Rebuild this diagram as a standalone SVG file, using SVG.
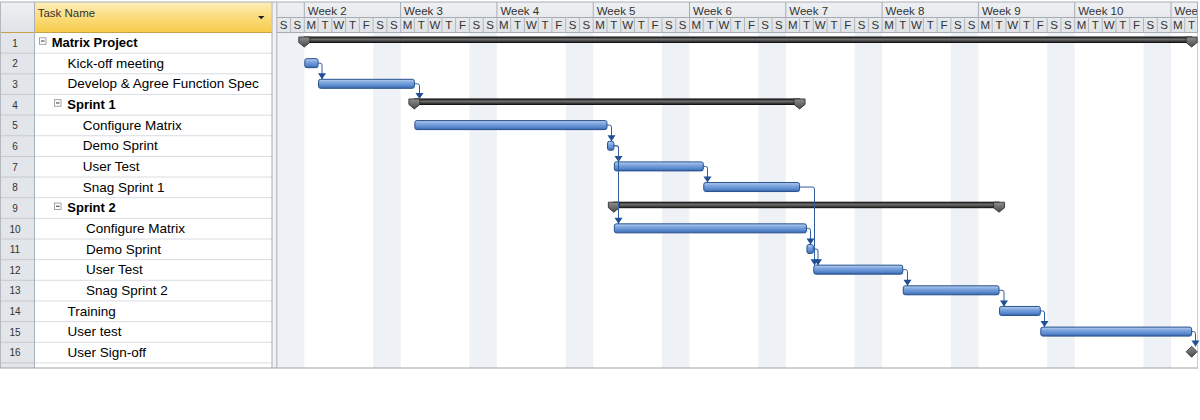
<svg xmlns="http://www.w3.org/2000/svg" width="1200" height="420" viewBox="0 0 1200 420">
<defs>
<style>
.tn{font-family:"Liberation Sans",Arial,sans-serif;font-size:13.5px;fill:#000}
.tb{font-family:"Liberation Sans",Arial,sans-serif;font-size:13px;font-weight:bold;fill:#000}
.rn{font-family:"Liberation Sans",Arial,sans-serif;font-size:10px;fill:#333;text-anchor:middle}
.wk{font-family:"Liberation Sans",Arial,sans-serif;font-size:11.5px;fill:#333}
.dy{font-family:"Liberation Sans",Arial,sans-serif;font-size:11.5px;fill:#333;text-anchor:middle}
.hd{font-family:"Liberation Sans",Arial,sans-serif;font-size:11.5px;fill:#333}
.bar{fill:url(#gBar);stroke:#264f8c;stroke-width:1}
.sum{fill:url(#gSum);stroke:#111;stroke-width:1}
.cap{fill:url(#gCap);stroke:#222;stroke-width:0.8}
.exp{fill:#fff;stroke:#8d8d8d;stroke-width:0.8}
.expm{stroke:#333;stroke-width:1}
.conn{fill:none;stroke:#2f5e9e;stroke-width:1;marker-end:url(#arr)}
.rowline{stroke:#d9dce1;stroke-width:1}
.numline{stroke:#c5cad1;stroke-width:1}
.wkend{fill:#eef1f6}
</style>
<linearGradient id="gBar" x1="0" y1="0" x2="0" y2="1">
<stop offset="0" stop-color="#b9cff0"/>
<stop offset="0.35" stop-color="#7ea6de"/>
<stop offset="0.7" stop-color="#5b8bd0"/>
<stop offset="1" stop-color="#3a67aa"/>
</linearGradient>
<linearGradient id="gSum" x1="0" y1="0" x2="0" y2="1">
<stop offset="0" stop-color="#2a2a2a"/>
<stop offset="0.45" stop-color="#6d6d6d"/>
<stop offset="1" stop-color="#1c1c1c"/>
</linearGradient>
<linearGradient id="gCap" x1="0" y1="0" x2="0" y2="1">
<stop offset="0" stop-color="#8e8e8e"/>
<stop offset="1" stop-color="#4a4a4a"/>
</linearGradient>
<linearGradient id="gHead" x1="0" y1="0" x2="0" y2="1">
<stop offset="0" stop-color="#fdefbd"/>
<stop offset="0.5" stop-color="#fbdc7c"/>
<stop offset="1" stop-color="#f7cc4a"/>
</linearGradient>
<linearGradient id="gGrey" x1="0" y1="0" x2="0" y2="1">
<stop offset="0" stop-color="#eef0f2"/>
<stop offset="1" stop-color="#e0e3e7"/>
</linearGradient>
<marker id="arr" markerUnits="userSpaceOnUse" markerWidth="10" markerHeight="10" viewBox="0 -5 6 10" refX="6" refY="0" orient="auto">
<path d="M0,-4 L6,0 L0,4 Z" fill="#1f4f96"/>
</marker>
<clipPath id="gclip"><rect x="276.8" y="0" width="921.2" height="368"/></clipPath>
</defs>

<rect x="0" y="0" width="1200" height="420" fill="#fff"/>

<!-- table frame -->
<g id="table">
<rect x="0" y="2" width="34" height="366" fill="#e2e5e9"/>
<rect x="0" y="2" width="34" height="30.5" fill="url(#gGrey)"/>
<rect x="34.5" y="2" width="237" height="30.5" fill="url(#gHead)"/>
<text class="hd" x="37.7" y="17">Task Name</text>
<path d="M258,16 L264.5,16 L261.25,19.3 Z" fill="#222"/>
<line x1="0" y1="32.5" x2="272" y2="32.5" stroke="#c7a24a" stroke-width="1"/>
<g class="rowline">
<line x1="34" y1="53.15" x2="272" y2="53.15"/>
<line x1="34" y1="73.8" x2="272" y2="73.8"/>
<line x1="34" y1="94.45" x2="272" y2="94.45"/>
<line x1="34" y1="115.1" x2="272" y2="115.1"/>
<line x1="34" y1="135.75" x2="272" y2="135.75"/>
<line x1="34" y1="156.4" x2="272" y2="156.4"/>
<line x1="34" y1="177.05" x2="272" y2="177.05"/>
<line x1="34" y1="197.7" x2="272" y2="197.7"/>
<line x1="34" y1="218.35" x2="272" y2="218.35"/>
<line x1="34" y1="239" x2="272" y2="239"/>
<line x1="34" y1="259.65" x2="272" y2="259.65"/>
<line x1="34" y1="280.3" x2="272" y2="280.3"/>
<line x1="34" y1="300.95" x2="272" y2="300.95"/>
<line x1="34" y1="321.6" x2="272" y2="321.6"/>
<line x1="34" y1="342.25" x2="272" y2="342.25"/>
<line x1="34" y1="362.9" x2="272" y2="362.9"/>
</g>
<g class="numline">
<line x1="0" y1="53.15" x2="34" y2="53.15"/>
<line x1="0" y1="73.8" x2="34" y2="73.8"/>
<line x1="0" y1="94.45" x2="34" y2="94.45"/>
<line x1="0" y1="115.1" x2="34" y2="115.1"/>
<line x1="0" y1="135.75" x2="34" y2="135.75"/>
<line x1="0" y1="156.4" x2="34" y2="156.4"/>
<line x1="0" y1="177.05" x2="34" y2="177.05"/>
<line x1="0" y1="197.7" x2="34" y2="197.7"/>
<line x1="0" y1="218.35" x2="34" y2="218.35"/>
<line x1="0" y1="239" x2="34" y2="239"/>
<line x1="0" y1="259.65" x2="34" y2="259.65"/>
<line x1="0" y1="280.3" x2="34" y2="280.3"/>
<line x1="0" y1="300.95" x2="34" y2="300.95"/>
<line x1="0" y1="321.6" x2="34" y2="321.6"/>
<line x1="0" y1="342.25" x2="34" y2="342.25"/>
<line x1="0" y1="362.9" x2="34" y2="362.9"/>
</g>
<line x1="34.5" y1="2" x2="34.5" y2="368" stroke="#aab0b8" stroke-width="1"/>
<rect x="272" y="2" width="4.8" height="366" fill="#f0f1f3"/>
<line x1="272" y1="2" x2="272" y2="368" stroke="#a9aeb5" stroke-width="1"/>
<line x1="0.5" y1="2" x2="0.5" y2="368" stroke="#b5b9bf" stroke-width="1"/>
</g>

<!-- gantt frame -->
<g id="timescale" clip-path="url(#gclip)">
<rect x="276.8" y="32.5" width="921.2" height="335.5" fill="#fff"/>
<g class="wkend">
<rect x="276.8" y="32.5" width="27.51" height="335.5"/>
<rect x="373.1" y="32.5" width="27.51" height="335.5"/>
<rect x="469.4" y="32.5" width="27.51" height="335.5"/>
<rect x="565.7" y="32.5" width="27.51" height="335.5"/>
<rect x="662.0" y="32.5" width="27.51" height="335.5"/>
<rect x="758.3" y="32.5" width="27.51" height="335.5"/>
<rect x="854.59" y="32.5" width="27.51" height="335.5"/>
<rect x="950.89" y="32.5" width="27.51" height="335.5"/>
<rect x="1047.19" y="32.5" width="27.51" height="335.5"/>
<rect x="1143.49" y="32.5" width="27.51" height="335.5"/>
</g>
<rect x="276.8" y="2" width="921.2" height="30.5" fill="url(#gGrey)"/>
<path d="M276.8,17.5 H1198 M276.8,32.5 H1198" stroke="#a7acb4" stroke-width="1" fill="none"/>
<path d="M304.31,2 V17.5 M400.61,2 V17.5 M496.91,2 V17.5 M593.21,2 V17.5 M689.51,2 V17.5 M785.81,2 V17.5 M882.11,2 V17.5 M978.41,2 V17.5 M1074.71,2 V17.5 M1171,2 V17.5" stroke="#a7acb4" stroke-width="1" fill="none"/>
<path d="M290.56,17.5V32.5M304.31,17.5V32.5M318.07,17.5V32.5M331.83,17.5V32.5M345.59,17.5V32.5M359.34,17.5V32.5M373.1,17.5V32.5M386.86,17.5V32.5M400.61,17.5V32.5M414.37,17.5V32.5M428.13,17.5V32.5M441.88,17.5V32.5M455.64,17.5V32.5M469.4,17.5V32.5M483.16,17.5V32.5M496.91,17.5V32.5M510.67,17.5V32.5M524.43,17.5V32.5M538.18,17.5V32.5M551.94,17.5V32.5M565.7,17.5V32.5M579.45,17.5V32.5M593.21,17.5V32.5M606.97,17.5V32.5M620.73,17.5V32.5M634.48,17.5V32.5M648.24,17.5V32.5M662,17.5V32.5M675.75,17.5V32.5M689.51,17.5V32.5M703.27,17.5V32.5M717.02,17.5V32.5M730.78,17.5V32.5M744.54,17.5V32.5M758.3,17.5V32.5M772.05,17.5V32.5M785.81,17.5V32.5M799.57,17.5V32.5M813.32,17.5V32.5M827.08,17.5V32.5M840.84,17.5V32.5M854.59,17.5V32.5M868.35,17.5V32.5M882.11,17.5V32.5M895.87,17.5V32.5M909.62,17.5V32.5M923.38,17.5V32.5M937.14,17.5V32.5M950.89,17.5V32.5M964.65,17.5V32.5M978.41,17.5V32.5M992.16,17.5V32.5M1005.92,17.5V32.5M1019.68,17.5V32.5M1033.44,17.5V32.5M1047.19,17.5V32.5M1060.95,17.5V32.5M1074.71,17.5V32.5M1088.46,17.5V32.5M1102.22,17.5V32.5M1115.98,17.5V32.5M1129.73,17.5V32.5M1143.49,17.5V32.5M1157.25,17.5V32.5M1171,17.5V32.5M1184.76,17.5V32.5" stroke="#b3b8bf" stroke-width="1" fill="none"/>
<text class="wk" x="307.8" y="15">Week 2</text>
<text class="wk" x="404.1" y="15">Week 3</text>
<text class="wk" x="500.4" y="15">Week 4</text>
<text class="wk" x="596.7" y="15">Week 5</text>
<text class="wk" x="693" y="15">Week 6</text>
<text class="wk" x="789.3" y="15">Week 7</text>
<text class="wk" x="885.6" y="15">Week 8</text>
<text class="wk" x="981.9" y="15">Week 9</text>
<text class="wk" x="1078.2" y="15">Week 10</text>
<text class="wk" x="1174.5" y="15">Week 11</text>
<text class="dy" x="283.68" y="29.3">S</text>
<text class="dy" x="297.44" y="29.3">S</text>
<text class="dy" x="311.19" y="29.3">M</text>
<text class="dy" x="324.95" y="29.3">T</text>
<text class="dy" x="338.71" y="29.3">W</text>
<text class="dy" x="352.47" y="29.3">T</text>
<text class="dy" x="366.22" y="29.3">F</text>
<text class="dy" x="379.98" y="29.3">S</text>
<text class="dy" x="393.74" y="29.3">S</text>
<text class="dy" x="407.49" y="29.3">M</text>
<text class="dy" x="421.25" y="29.3">T</text>
<text class="dy" x="435.01" y="29.3">W</text>
<text class="dy" x="448.76" y="29.3">T</text>
<text class="dy" x="462.52" y="29.3">F</text>
<text class="dy" x="476.28" y="29.3">S</text>
<text class="dy" x="490.04" y="29.3">S</text>
<text class="dy" x="503.79" y="29.3">M</text>
<text class="dy" x="517.55" y="29.3">T</text>
<text class="dy" x="531.31" y="29.3">W</text>
<text class="dy" x="545.06" y="29.3">T</text>
<text class="dy" x="558.82" y="29.3">F</text>
<text class="dy" x="572.58" y="29.3">S</text>
<text class="dy" x="586.33" y="29.3">S</text>
<text class="dy" x="600.09" y="29.3">M</text>
<text class="dy" x="613.85" y="29.3">T</text>
<text class="dy" x="627.61" y="29.3">W</text>
<text class="dy" x="641.36" y="29.3">T</text>
<text class="dy" x="655.12" y="29.3">F</text>
<text class="dy" x="668.88" y="29.3">S</text>
<text class="dy" x="682.63" y="29.3">S</text>
<text class="dy" x="696.39" y="29.3">M</text>
<text class="dy" x="710.15" y="29.3">T</text>
<text class="dy" x="723.9" y="29.3">W</text>
<text class="dy" x="737.66" y="29.3">T</text>
<text class="dy" x="751.42" y="29.3">F</text>
<text class="dy" x="765.18" y="29.3">S</text>
<text class="dy" x="778.93" y="29.3">S</text>
<text class="dy" x="792.69" y="29.3">M</text>
<text class="dy" x="806.45" y="29.3">T</text>
<text class="dy" x="820.2" y="29.3">W</text>
<text class="dy" x="833.96" y="29.3">T</text>
<text class="dy" x="847.72" y="29.3">F</text>
<text class="dy" x="861.47" y="29.3">S</text>
<text class="dy" x="875.23" y="29.3">S</text>
<text class="dy" x="888.99" y="29.3">M</text>
<text class="dy" x="902.75" y="29.3">T</text>
<text class="dy" x="916.5" y="29.3">W</text>
<text class="dy" x="930.26" y="29.3">T</text>
<text class="dy" x="944.02" y="29.3">F</text>
<text class="dy" x="957.77" y="29.3">S</text>
<text class="dy" x="971.53" y="29.3">S</text>
<text class="dy" x="985.29" y="29.3">M</text>
<text class="dy" x="999.04" y="29.3">T</text>
<text class="dy" x="1012.8" y="29.3">W</text>
<text class="dy" x="1026.56" y="29.3">T</text>
<text class="dy" x="1040.32" y="29.3">F</text>
<text class="dy" x="1054.07" y="29.3">S</text>
<text class="dy" x="1067.83" y="29.3">S</text>
<text class="dy" x="1081.59" y="29.3">M</text>
<text class="dy" x="1095.34" y="29.3">T</text>
<text class="dy" x="1109.1" y="29.3">W</text>
<text class="dy" x="1122.86" y="29.3">T</text>
<text class="dy" x="1136.61" y="29.3">F</text>
<text class="dy" x="1150.37" y="29.3">S</text>
<text class="dy" x="1164.13" y="29.3">S</text>
<text class="dy" x="1177.88" y="29.3">M</text>
<text class="dy" x="1191.64" y="29.3">T</text>
</g>
<line x1="276.8" y1="2" x2="276.8" y2="368" stroke="#a9aeb5" stroke-width="1"/>
<line x1="1197.5" y1="32.5" x2="1197.5" y2="368" stroke="#9a9a9a" stroke-width="1" stroke-dasharray="1,1"/>
<line x1="1197.5" y1="2" x2="1197.5" y2="32.5" stroke="#a7acb4" stroke-width="1"/>
<line x1="0" y1="2" x2="1198" y2="2" stroke="#a9aeb5" stroke-width="1"/>
<line x1="0" y1="368" x2="1198" y2="368" stroke="#a0a0a0" stroke-width="1"/>

<!-- tasks -->
<g id="task-1">
<text class="rn" x="15" y="46.6">1</text>
<rect class="exp" x="39.5" y="37.8" width="6.5" height="6.5"/>
<line class="expm" x1="41" y1="41.05" x2="44.5" y2="41.05"/>
<text class="tb" x="51.7" y="47.1">Matrix Project</text>
<rect class="sum" x="304.31" y="37" width="887.33" height="5.5"/>
<path class="cap" d="M298.81,37 H309.81 V42.5 L304.31,47 L298.81,42.5 Z"/>
<path class="cap" d="M1186.14,37 H1197.14 V42.5 L1191.64,47 L1186.14,42.5 Z"/>
</g>
<g id="task-2">
<text class="rn" x="15" y="67.3">2</text>
<text class="tn" x="67.5" y="67.75">Kick-off meeting</text>
<rect class="bar" x="304.81" y="58.65" width="13.26" height="9" rx="2"/>
</g>
<g id="task-3">
<text class="rn" x="15" y="87.9">3</text>
<text class="tn" x="67.5" y="88.4">Develop &amp; Agree Function Spec</text>
<rect class="bar" x="318.57" y="79.3" width="95.8" height="9" rx="2"/>
</g>
<g id="task-4">
<text class="rn" x="15" y="108.6">4</text>
<rect class="exp" x="54.5" y="99.7" width="6.5" height="6.5"/>
<line class="expm" x1="56" y1="102.95" x2="59.5" y2="102.95"/>
<text class="tb" x="67.3" y="109.05">Sprint 1</text>
<rect class="sum" x="414.37" y="98.95" width="385.2" height="5.5"/>
<path class="cap" d="M408.87,98.95 H419.87 V104.45 L414.37,108.95 L408.87,104.45 Z"/>
<path class="cap" d="M794.07,98.95 H805.07 V104.45 L799.57,108.95 L794.07,104.45 Z"/>
</g>
<g id="task-5">
<text class="rn" x="15" y="129.2">5</text>
<text class="tn" x="82.7" y="129.7">Configure Matrix</text>
<rect class="bar" x="414.87" y="120.6" width="192.1" height="9" rx="2"/>
</g>
<g id="task-6">
<text class="rn" x="15" y="149.9">6</text>
<text class="tn" x="82.7" y="150.35">Demo Sprint</text>
<rect class="bar" x="607.47" y="141.25" width="6.38" height="9" rx="2"/>
</g>
<g id="task-7">
<text class="rn" x="15" y="170.5">7</text>
<text class="tn" x="82.7" y="171">User Test</text>
<rect class="bar" x="614.35" y="161.9" width="88.92" height="9" rx="2"/>
</g>
<g id="task-8">
<text class="rn" x="15" y="191.2">8</text>
<text class="tn" x="82.7" y="191.65">Snag Sprint 1</text>
<rect class="bar" x="703.77" y="182.55" width="95.8" height="9" rx="2"/>
</g>
<g id="task-9">
<text class="rn" x="15" y="211.8">9</text>
<rect class="exp" x="54.5" y="203" width="6.5" height="6.5"/>
<line class="expm" x1="56" y1="206.25" x2="59.5" y2="206.25"/>
<text class="tb" x="67.3" y="212.3">Sprint 2</text>
<rect class="sum" x="613.85" y="202.2" width="385.19" height="5.5"/>
<path class="cap" d="M608.35,202.2 H619.35 V207.7 L613.85,212.2 L608.35,207.7 Z"/>
<path class="cap" d="M993.54,202.2 H1004.54 V207.7 L999.04,212.2 L993.54,207.7 Z"/>
</g>
<g id="task-10">
<text class="rn" x="15" y="232.5">10</text>
<text class="tn" x="86" y="232.95">Configure Matrix</text>
<rect class="bar" x="614.35" y="223.85" width="192.1" height="9" rx="2"/>
</g>
<g id="task-11">
<text class="rn" x="15" y="253.1">11</text>
<text class="tn" x="86" y="253.6">Demo Sprint</text>
<rect class="bar" x="806.95" y="244.5" width="6.37" height="9" rx="2"/>
</g>
<g id="task-12">
<text class="rn" x="15" y="273.8">12</text>
<text class="tn" x="86" y="274.25">User Test</text>
<rect class="bar" x="813.82" y="265.15" width="88.92" height="9" rx="2"/>
</g>
<g id="task-13">
<text class="rn" x="15" y="294.4">13</text>
<text class="tn" x="86" y="294.9">Snag Sprint 2</text>
<rect class="bar" x="903.24" y="285.8" width="95.8" height="9" rx="2"/>
</g>
<g id="task-14">
<text class="rn" x="15" y="315.1">14</text>
<text class="tn" x="67.5" y="315.55">Training</text>
<rect class="bar" x="999.54" y="306.45" width="40.77" height="9" rx="2"/>
</g>
<g id="task-15">
<text class="rn" x="15" y="335.7">15</text>
<text class="tn" x="67.5" y="336.2">User test</text>
<rect class="bar" x="1040.81" y="327.1" width="150.83" height="9" rx="2"/>
</g>
<g id="task-16">
<text class="rn" x="15" y="356.4">16</text>
<text class="tn" x="67.5" y="356.85">User Sign-off</text>
<path d="M1191.64,346.25 L1197.14,351.75 L1191.64,357.25 L1186.14,351.75 Z" fill="url(#gCap)" stroke="#2a2a2a" stroke-width="0.8"/>
</g>

<!-- connectors -->
<g id="connectors">
<path class="conn" d="M318.07,63.15 H320 Q322,63.15 322,65.15 V79.3"/>
<path class="conn" d="M414.37,83.8 H417.5 Q419.5,83.8 419.5,85.8 V98.95"/>
<path class="conn" d="M606.97,125.1 H609.5 Q611.5,125.1 611.5,127.1 V141.25"/>
<path class="conn" d="M613.85,145.75 H616.5 Q618.5,145.75 618.5,147.75 V161.9"/>
<path class="conn" d="M613.85,145.75 H616.5 Q618.5,145.75 618.5,147.75 V223.85"/>
<path class="conn" d="M703.27,166.4 H705.5 Q707.5,166.4 707.5,168.4 V182.55"/>
<path class="conn" d="M799.57,187.05 H812.5 Q814.5,187.05 814.5,189.05 V265.15"/>
<path class="conn" d="M806.45,228.35 H808.5 Q810.5,228.35 810.5,230.35 V244.5"/>
<path class="conn" d="M813.32,249 H816 Q818,249 818,251 V265.15"/>
<path class="conn" d="M902.74,269.65 H905.5 Q907.5,269.65 907.5,271.65 V285.8"/>
<path class="conn" d="M999.04,290.3 H1002 Q1004,290.3 1004,292.3 V306.45"/>
<path class="conn" d="M1040.31,310.95 H1042.5 Q1044.5,310.95 1044.5,312.95 V327.1"/>
<path class="conn" d="M1191.64,331.6 H1193.5 Q1195.5,331.6 1195.5,333.6 V346.5"/>
</g>
</svg>
